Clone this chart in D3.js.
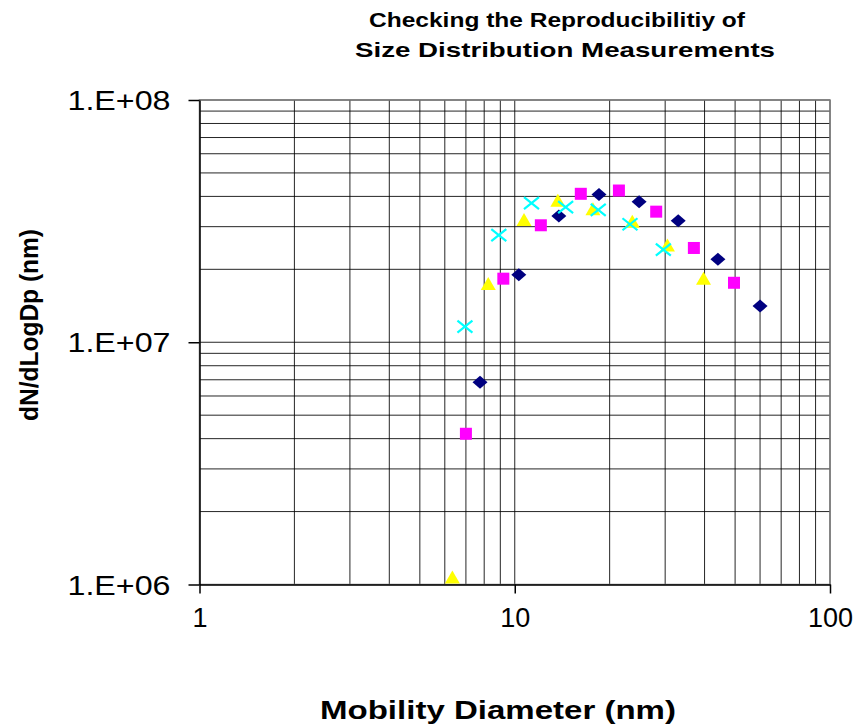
<!DOCTYPE html>
<html>
<head>
<meta charset="utf-8">
<script src="https://cdn.jsdelivr.net/npm/d3@7"></script>
<style>
  html, body { margin: 0; padding: 0; background: #fff; }
  svg { display: block; }
  text { font-family: Arial, "Liberation Sans", sans-serif; }
</style>
</head>
<body>
<svg id="chart" width="861" height="728"></svg>
<script>
// ---- Data ----
const titleLines = ["Checking the Reproducibilitiy of", "Size Distribution Measurements"];
const xLabel = "Mobility Diameter (nm)";
const yLabel = "dN/dLogDp (nm)";
const xTicks = [1, 10, 100];
const xTickLabels = ["1", "10", "100"];
const yTicks = [1e6, 1e7, 1e8];
const yTickLabels = ["1.E+06", "1.E+07", "1.E+08"];

const navyX = [7.76, 10.3, 13.8, 18.5, 24.8, 33.0, 44.1, 60.0];
const navyY = [6.83e6, 1.90e7, 3.32e7, 4.07e7, 3.80e7, 3.17e7, 2.20e7, 1.41e7];

const magentaX = [7.0, 9.2, 12.1, 16.2, 21.4, 28.1, 37.0, 49.6];
const magentaY = [4.19e6, 1.83e7, 3.04e7, 4.10e7, 4.23e7, 3.46e7, 2.45e7, 1.76e7];

const yellowX = [6.34, 8.24, 10.7, 13.7, 17.7, 23.6, 30.5, 39.7];
const yellowY = [1.07e6, 1.74e7, 3.2e7, 3.84e7, 3.54e7, 3.14e7, 2.51e7, 1.83e7];

const cyanX = [6.95, 8.9, 11.3, 14.5, 18.4, 23.2, 29.6];
const cyanY = [1.16e7, 2.77e7, 3.75e7, 3.61e7, 3.52e7, 3.07e7, 2.41e7];

// ---- Layout ----
const svg = d3.select("#chart");
const plot = { left: 199.5, right: 830, top: 100, bottom: 584.5 };

const x = d3.scaleLog().domain([1, 100]).range([plot.left, plot.right]);
const y = d3.scaleLog().domain([1e6, 1e8]).range([plot.bottom, plot.top]);

// grid values
const xGrid = [];
for (let d = 1; d < 100; d *= 10) for (let m = 1; m <= 9; m++) xGrid.push(m * d);
xGrid.push(100);
const yGrid = [];
for (let d = 1e6; d < 1e8; d *= 10) for (let m = 1; m <= 9; m++) yGrid.push(m * d);
yGrid.push(1e8);

const g = svg.append("g");

// gridlines
g.selectAll(".vg").data(xGrid).enter().append("line")
  .attr("x1", d => x(d)).attr("x2", d => x(d))
  .attr("y1", plot.top).attr("y2", plot.bottom)
  .attr("stroke", "#000").attr("stroke-width", 1).attr("opacity", 0.85);
g.selectAll(".hg").data(yGrid).enter().append("line")
  .attr("y1", d => y(d)).attr("y2", d => y(d))
  .attr("x1", plot.left).attr("x2", plot.right)
  .attr("stroke", "#000").attr("stroke-width", 1).attr("opacity", 0.85);

// plot border
g.append("rect")
  .attr("x", plot.left).attr("y", plot.top)
  .attr("width", plot.right - plot.left).attr("height", plot.bottom - plot.top)
  .attr("fill", "none").attr("stroke", "#808080").attr("stroke-width", 1.5);

// axes
const xAxis = d3.axisBottom(x).tickValues(xTicks).tickFormat((d, i) => xTickLabels[i])
  .tickSizeInner(9).tickSizeOuter(0).tickPadding(14);
const yAxis = d3.axisLeft(y).tickValues(yTicks).tickFormat((d, i) => yTickLabels[i])
  .tickSizeInner(11).tickSizeOuter(0).tickPadding(18);

const gx = svg.append("g").attr("transform", `translate(0,${plot.bottom})`).call(xAxis);
const gy = svg.append("g").attr("transform", `translate(${plot.left},0)`).call(yAxis);
[gx, gy].forEach(a => {
  a.select(".domain").attr("stroke", "#000").attr("stroke-width", 1.5);
  a.selectAll(".tick line").attr("stroke", "#000").attr("stroke-width", 1.5);
  a.selectAll(".tick text").attr("fill", "#000")
    .style("font-family", "Arial, 'Liberation Sans', sans-serif")
    .style("font-size", "27px");
});
gx.selectAll(".tick text").attr("dy", "0.71em");
gy.selectAll(".tick text").attr("dy", "0.36em")
  .attr("textLength", 103).attr("lengthAdjust", "spacingAndGlyphs");

// markers
function pts(xs, ys) { return xs.map((v, i) => [v, ys[i]]); }

const mk = svg.append("g");
// navy diamonds
mk.selectAll(".nav").data(pts(navyX, navyY)).enter().append("path")
  .attr("transform", d => `translate(${x(d[0])},${y(d[1])})`)
  .attr("d", "M0,-6.5L7.5,0L0,6.5L-7.5,0Z")
  .attr("fill", "#000080");
// magenta squares
mk.selectAll(".mag").data(pts(magentaX, magentaY)).enter().append("rect")
  .attr("x", d => x(d[0]) - 6).attr("y", d => y(d[1]) - 6)
  .attr("width", 12).attr("height", 12)
  .attr("fill", "#FF00FF");
// yellow triangles
mk.selectAll(".yel").data(pts(yellowX, yellowY)).enter().append("path")
  .attr("transform", d => `translate(${x(d[0])},${y(d[1])})`)
  .attr("d", "M0,-7L7.5,6L-7.5,6Z")
  .attr("fill", "#FFFF00");
// cyan crosses
mk.selectAll(".cya").data(pts(cyanX, cyanY)).enter().append("path")
  .attr("transform", d => `translate(${x(d[0])},${y(d[1])})`)
  .attr("d", "M-7.5,-6L7.5,6M-7.5,6L7.5,-6")
  .attr("stroke", "#00FFFF").attr("stroke-width", 2.2).attr("fill", "none");

// title
svg.append("text").attr("x", 557).attr("y", 27).attr("text-anchor", "middle")
  .style("font-weight", "bold").style("font-size", "20.5px")
  .attr("textLength", 376).attr("lengthAdjust", "spacingAndGlyphs")
  .text(titleLines[0]);
svg.append("text").attr("x", 565).attr("y", 57).attr("text-anchor", "middle")
  .style("font-weight", "bold").style("font-size", "20.5px")
  .attr("textLength", 420).attr("lengthAdjust", "spacingAndGlyphs")
  .text(titleLines[1]);

// axis labels
svg.append("text").attr("x", 498).attr("y", 719).attr("text-anchor", "middle")
  .style("font-weight", "bold").style("font-size", "25px")
  .attr("textLength", 356).attr("lengthAdjust", "spacingAndGlyphs")
  .text(xLabel);
svg.append("text")
  .attr("transform", "translate(38,325) rotate(-90)")
  .attr("text-anchor", "middle")
  .style("font-weight", "bold").style("font-size", "25px")
  .attr("textLength", 192).attr("lengthAdjust", "spacingAndGlyphs")
  .text(yLabel);
</script>
</body>
</html>
